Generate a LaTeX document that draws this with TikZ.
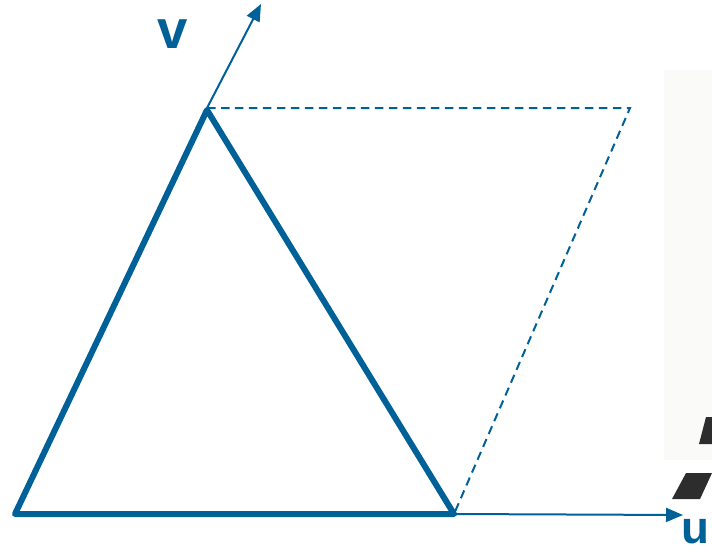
\documentclass[tikz,border=0pt]{standalone}
\usepackage{fontspec}
\setsansfont{Liberation Sans}
\usetikzlibrary{arrows.meta}
\definecolor{vblue}{RGB}{0,97,153}
\definecolor{scan}{RGB}{250,250,249}
\definecolor{stripe}{RGB}{45,45,45}
\begin{document}
\begin{tikzpicture}[x=0.02cm,y=-0.02cm,
  edge/.style={vblue,line width=0.12cm,line join=round,line cap=round},
  vec/.style={vblue,line width=0.04cm,-{Triangle[length=0.34cm,width=0.28cm]}},
  helper/.style={vblue,line width=0.04cm,dash pattern=on 0.17cm off 0.11cm},
  lbl/.style={vblue,font=\sffamily\bfseries\fontsize{31}{31}\selectfont,inner sep=0pt}]
\useasboundingbox (0,0) rectangle (712,554);
\clip (0,0) rectangle (712,554);
% scan artefacts on the right
\fill[scan] (664,70) rectangle (712,460);
\fill[stripe] (706,417) -- (712,417) -- (712,444) -- (699,444) -- cycle;
\fill[stripe] (686,473) -- (712,473) -- (700,499) -- (672,499) -- cycle;
% vertices
\coordinate (A) at (15,514);
\coordinate (B) at (454,514);
\coordinate (C) at (207,110);
\coordinate (D) at (630,108);
\coordinate (Ct) at (207,108);
\coordinate (Vtip) at (261,4);
\coordinate (Utip) at (683,515);
% dashed parallelogram completion
\draw[helper] (Ct) -- (D) -- (B);
% vectors
\draw[vec] (Ct) -- (Vtip);
\draw[vec] (B) -- (Utip);
% triangle
\draw[edge] (A) -- (B) -- (C) -- cycle;
% labels
\node[lbl] (v) at (173,34) {v};
\node[lbl,font=\sffamily\bfseries\fontsize{26}{26}\selectfont,anchor=base east] (u) at (710,543) {u};
\end{tikzpicture}
\end{document}
